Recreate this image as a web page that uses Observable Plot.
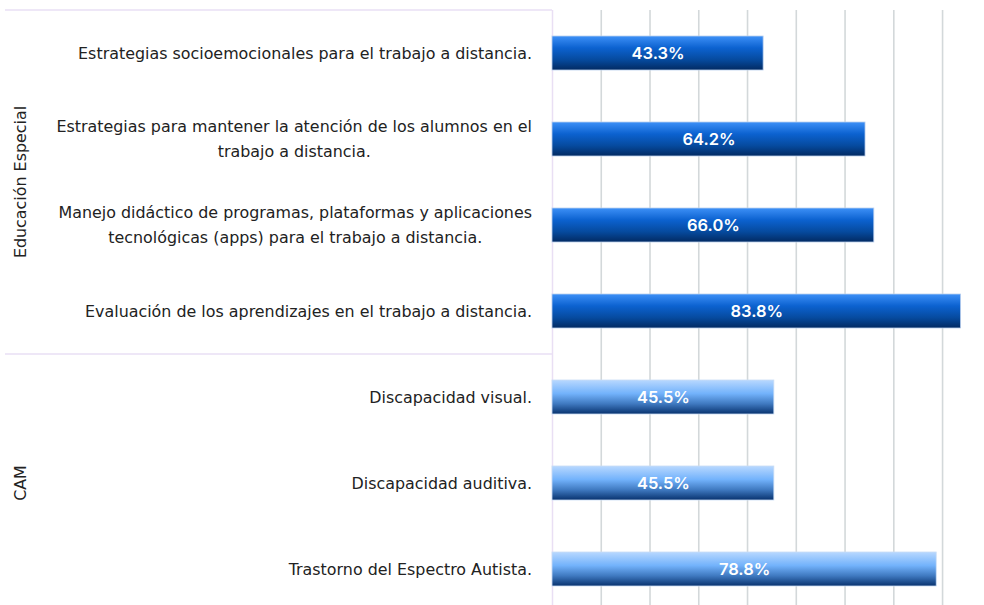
<!DOCTYPE html>
<html>
<head>
<meta charset="utf-8">
<script src="https://cdn.jsdelivr.net/npm/d3@7"></script>
<script src="https://cdn.jsdelivr.net/npm/@observablehq/plot@0.6"></script>
<style>
  html, body { margin: 0; padding: 0; background: #fff; }
  #chart svg { display: block; }
</style>
</head>
<body>
<div id="chart"></div>
<script>
// ---- data ----
const groups = ["Educación Especial", "CAM"];
const categories = [
  "Estrategias socioemocionales para el trabajo a distancia.",
  "Estrategias para mantener la atención de los alumnos en el\ntrabajo a distancia.",
  "Manejo didáctico de programas, plataformas y aplicaciones\ntecnológicas (apps) para el trabajo a distancia.",
  "Evaluación de los aprendizajes en el trabajo a distancia.",
  "Discapacidad visual.",
  "Discapacidad auditiva.",
  "Trastorno del Espectro Autista."
];
const categoryGroup = [0, 0, 0, 0, 1, 1, 1];
const values = [43.3, 64.2, 66.0, 83.8, 45.5, 45.5, 78.8];
const gridTicks = [10, 20, 30, 40, 50, 60, 70, 80];

const data = categories.map((c, i) => ({cat: c, group: groups[categoryGroup[i]], value: values[i]}));

const labelFont = "15.9px 'DejaVu Sans'";
const frameColor = "#e9dff4";

// gradient definitions
function defsMark() {
  const ns = "http://www.w3.org/2000/svg";
  const defs = document.createElementNS(ns, "defs");
  const mk = (id, stops) => {
    const g = document.createElementNS(ns, "linearGradient");
    g.setAttribute("id", id);
    g.setAttribute("x1", "0"); g.setAttribute("y1", "0");
    g.setAttribute("x2", "0"); g.setAttribute("y2", "1");
    for (const [o, c] of stops) {
      const s = document.createElementNS(ns, "stop");
      s.setAttribute("offset", o); s.setAttribute("stop-color", c);
      g.appendChild(s);
    }
    defs.appendChild(g);
  };
  mk("gradDark", [["0%", "#3d90f7"], ["35%", "#0c62d0"], ["70%", "#064a9e"], ["100%", "#022a62"]]);
  mk("gradLight", [["0%", "#b8d8ff"], ["40%", "#72b2fb"], ["70%", "#3f79c0"], ["100%", "#08326e"]]);
  return defs;
}

// measure text
const ctx = document.createElement("canvas").getContext("2d");

function labelsMark(index, scales, values, dimensions) {
  const y = scales.y;
  const bw = y.bandwidth();
  const step = y.step();
  const gap = (step - bw) / 2;
  const right = dimensions.marginLeft - 20;
  const g = d3.create("svg:g");
  ctx.font = labelFont;
  const lh = 25;
  // category labels (block right-aligned, lines centered)
  for (const c of categories) {
    const lines = c.split("\n");
    const w = d3.max(lines, l => ctx.measureText(l).width);
    const cx = right - w / 2;
    const cy = y(c) + bw / 2;
    lines.forEach((l, j) => {
      g.append("text")
        .attr("x", cx)
        .attr("y", cy + (j - (lines.length - 1) / 2) * lh)
        .attr("dy", "0.35em")
        .attr("text-anchor", "middle")
        .attr("fill", "#222")
        .style("font", labelFont)
        .text(l);
    });
  }
  // group labels + separators
  const left = 5;
  groups.forEach((gr, gi) => {
    const cats = categories.filter((c, i) => categoryGroup[i] === gi);
    const top = y(cats[0]) - gap;
    const bottom = y(cats[cats.length - 1]) + bw + gap;
    g.append("text")
      .attr("transform", `translate(20,${(top + bottom) / 2}) rotate(-90)`)
      .attr("dy", "0.35em")
      .attr("text-anchor", "middle")
      .attr("fill", "#222")
      .style("font", labelFont)
      .text(gr);
    g.append("line")
      .attr("x1", left).attr("x2", dimensions.marginLeft)
      .attr("y1", top).attr("y2", top)
      .attr("stroke", frameColor).attr("stroke-width", 1.5);
  });
  return g.node();
}

const chart = Plot.plot({
  width: 984,
  height: 605,
  marginLeft: 552,
  marginRight: 0,
  marginTop: 10,
  marginBottom: 0,
  x: {domain: [0, 88.6], axis: null},
  y: {domain: categories, range: [10, 612], paddingInner: 0.6, paddingOuter: 0.3, axis: null},
  marks: [
    defsMark,
    Plot.ruleX(gridTicks, {stroke: "#d3d8da", strokeWidth: 1.6}),
    Plot.ruleX([0], {stroke: frameColor, strokeWidth: 1.5}),
    Plot.barX(data.filter(d => d.group === groups[0]), {y: "cat", x: "value", fill: "url(#gradDark)", stroke: "#b9cfee", strokeWidth: 0.8}),
    Plot.barX(data.filter(d => d.group === groups[1]), {y: "cat", x: "value", fill: "url(#gradLight)", stroke: "#c9ddf5", strokeWidth: 0.8}),
    Plot.text(data, {y: "cat", x: d => d.value / 2, text: d => d.value.toFixed(1) + "%", fill: "white", fontSize: 16.5, fontWeight: 600, fontFamily: "Inter"}),
    labelsMark
  ]
});
document.getElementById("chart").appendChild(chart);
</script>
</body>
</html>
